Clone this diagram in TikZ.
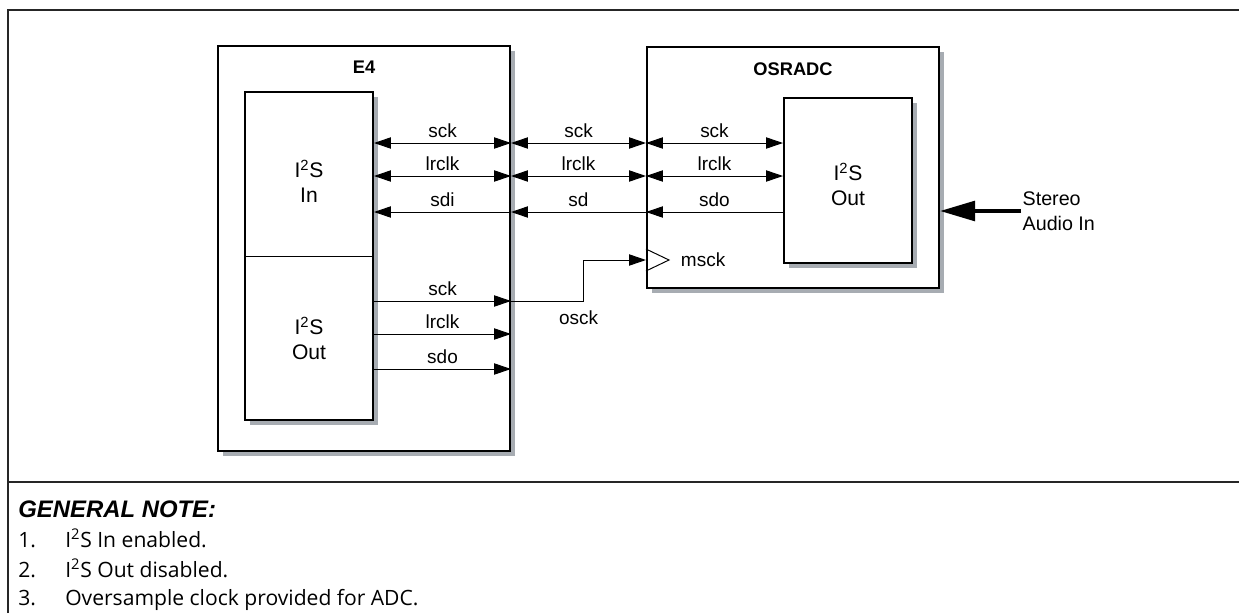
\documentclass[tikz,border=0pt]{standalone}
\usepackage{fontspec}
\setmainfont{Liberation Sans}
\newfontfamily\notefont{Open Sans}
\usetikzlibrary{arrows.meta,positioning,calc,shadows}
\definecolor{shadowgray}{HTML}{A7ACB2}

\begin{document}
\begin{tikzpicture}[x=0.025cm,y=-0.025cm,>={Triangle[length=12pt,width=8pt]}]
\tikzstyle{block} = [rectangle, draw=black, line width=1.4pt, fill=white, drop shadow={shadow xshift=0.13cm, shadow yshift=-0.13cm, fill=shadowgray, opacity=1}]
\tikzstyle{title} = [font=\fontsize{13pt}{15pt}\selectfont\bfseries]
\tikzstyle{lbl} = [font=\fontsize{13.5pt}{17.5pt}\selectfont, align=center]
\tikzstyle{big} = [font=\fontsize{15pt}{17.5pt}\selectfont, align=center]
\tikzstyle{sig} = [line width=0.7pt]
\tikzstyle{frame} = [line width=1.2pt, draw=black!85]
\tikzstyle{notetext} = [font=\notefont\fontsize{15pt}{18pt}\selectfont, inner sep=0pt, anchor=base west]
\tikzstyle{notehead} = [font=\fontsize{17pt}{20pt}\selectfont\bfseries\itshape, inner sep=0pt, anchor=base west]

\useasboundingbox (0,0) rectangle (1239,613);

% frame
\draw[frame] (8,613) -- (8,10) -- (1239,10);
\draw[frame] (8,482) -- (1239,482);

% signal levels
\coordinate (ysck) at (0,143);
\coordinate (ylrclk) at (0,176);
\coordinate (ysd) at (0,212);
\coordinate (yosck) at (0,301);
\coordinate (yolrclk) at (0,334);
\coordinate (ysdo) at (0,369);
\coordinate (ymsck) at (0,260);

% blocks
\node (e4) [block, minimum width=7.3cm, minimum height=10.125cm] at (364,248.5) {};
\node (e4title) [title] at ($(e4.north)+(0,22)$) {E4};
\node (e4port) [block, minimum width=3.2cm, minimum height=8.2cm] at (309,256) {};
\draw[sig] (e4port.west) -- (e4port.east);
\node (e4in) [big] at (309,181) {I\textsuperscript{2}S\\In};
\node (e4out) [big] at (309,338) {I\textsuperscript{2}S\\Out};

\node (adc) [block, minimum width=7.3cm, minimum height=6.025cm] at (793,167.5) {};
\node (adctitle) [title] at ($(adc.north)+(0,23)$) {OSRADC};
\node (adcport) [block, minimum width=3.2cm, minimum height=4.125cm] at (848,180.5) {};
\node (adcout) [big] at (848,184) {I\textsuperscript{2}S\\Out};

% I2S In side
\draw[sig,<->] (e4port.east |- ysck) -- (e4.east |- ysck) node[midway,above,lbl] {sck};
\draw[sig,<->] (e4port.east |- ylrclk) -- (e4.east |- ylrclk) node[midway,above,lbl] {lrclk};
\draw[sig,<-] (e4port.east |- ysd) -- (e4.east |- ysd) node[midway,above,lbl] {sdi};

\draw[sig,<->] (e4.east |- ysck) -- (adc.west |- ysck) node[midway,above,lbl] {sck};
\draw[sig,<->] (e4.east |- ylrclk) -- (adc.west |- ylrclk) node[midway,above,lbl] {lrclk};
\draw[sig,<-] (e4.east |- ysd) -- (adc.west |- ysd) node[midway,above,lbl] {sd};

\draw[sig,<->] (adc.west |- ysck) -- (adcport.west |- ysck) node[midway,above,lbl] {sck};
\draw[sig,<->] (adc.west |- ylrclk) -- (adcport.west |- ylrclk) node[midway,above,lbl] {lrclk};
\draw[sig,<-] (adc.west |- ysd) -- (adcport.west |- ysd) node[midway,above,lbl] {sdo};

% I2S Out side
\draw[sig,->] (e4port.east |- yosck) -- (e4.east |- yosck) node[midway,above,lbl] {sck};
\draw[sig,->] (e4port.east |- yolrclk) -- (e4.east |- yolrclk) node[midway,above,lbl] {lrclk};
\draw[sig,->] (e4port.east |- ysdo) -- (e4.east |- ysdo) node[midway,above,lbl] {sdo};

% oversample clock
\coordinate (mclk) at (adc.west |- ymsck);
\draw[sig] (mclk) ++(0,-11) -- ++(23,11) -- ++(-23,11);
\node (msck) [lbl, right=0.75cm of mclk] {msck};
\draw[sig,->] (e4.east |- yosck) -- ++(72,0) node[pos=0.94,below=3pt,lbl] {osck} |- (mclk);

% audio in
\node (stereo) [lbl, font=\fontsize{14pt}{18pt}\selectfont, align=left, anchor=west, inner sep=1pt] at (1021,211) {Stereo\\Audio In};
\draw[line width=2.8pt, -{Triangle[length=25pt,width=14pt]}] (stereo.west) -- (adc.east |- stereo.west);

% notes
\node (notehd) [notehead] at (18,517) {GENERAL NOTE:};
\node (num1) [notetext] at (18,547) {1.};
\node (note1) [notetext] at (65,547) {I\textsuperscript{2}S In enabled.};
\node (num2) [notetext] at (18,577) {2.};
\node (note2) [notetext] at (65,577) {I\textsuperscript{2}S Out disabled.};
\node (num3) [notetext] at (18,605) {3.};
\node (note3) [notetext] at (65,605) {Oversample clock provided for ADC.};

\end{tikzpicture}
\end{document}
